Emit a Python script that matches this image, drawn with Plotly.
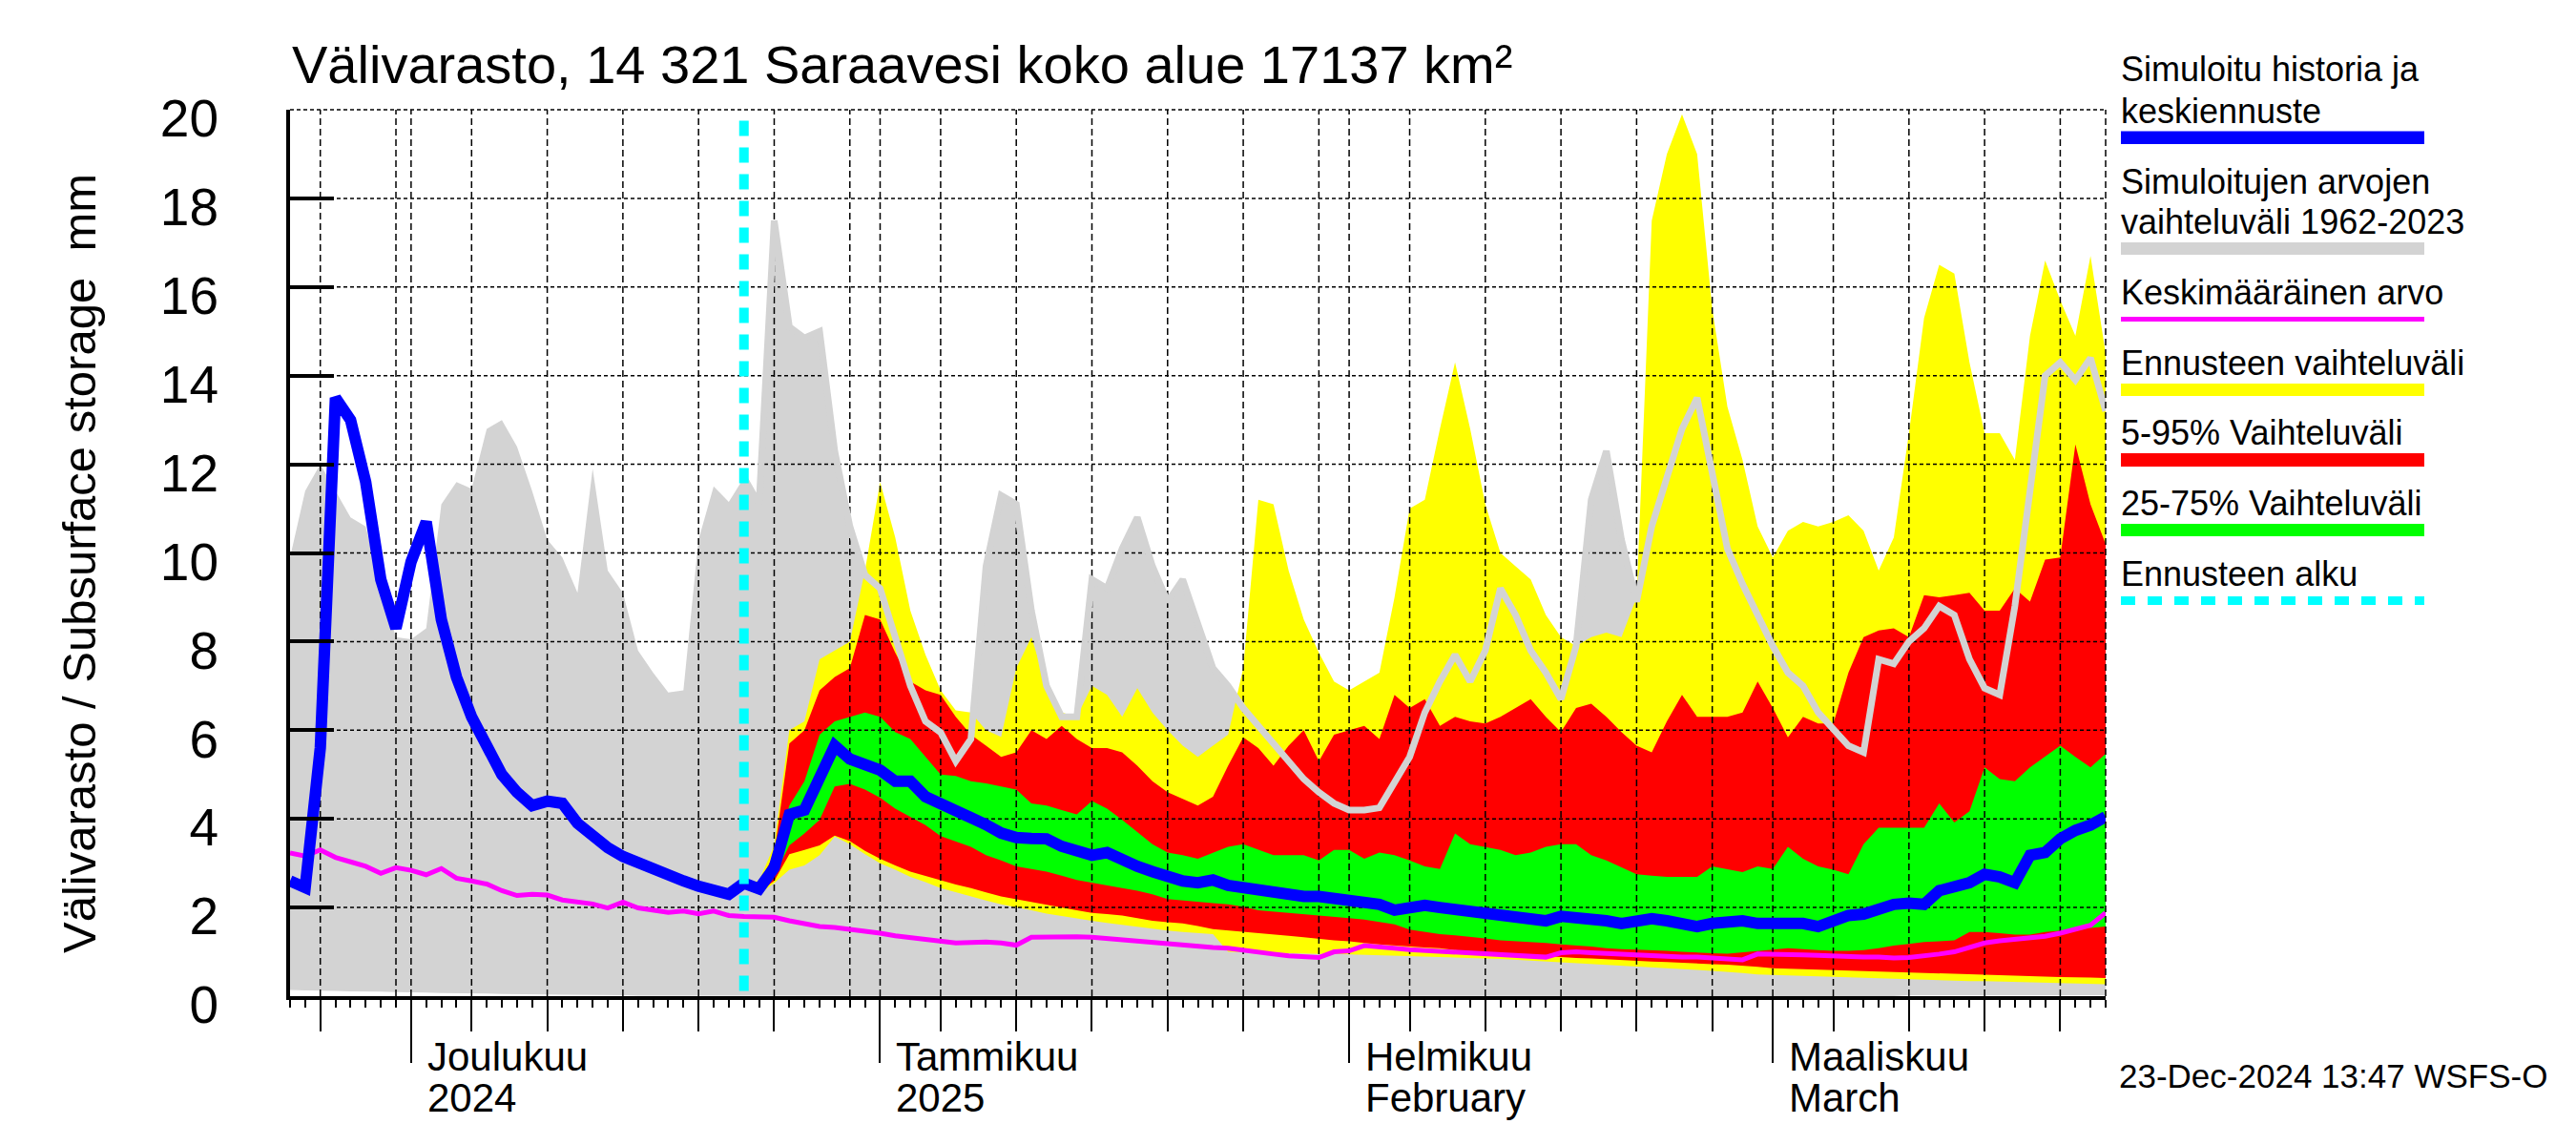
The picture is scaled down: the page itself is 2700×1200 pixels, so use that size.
import plotly.graph_objects as go
import pandas as pd

# ---------------- data ----------------
START = "2024-11-23"
END = "2025-03-23"
FORECAST_START = "2024-12-23"
dates = pd.date_range(START, END, freq="D").strftime("%Y-%m-%d").tolist()   # 121 days
fc_dates = dates[30:]                                                       # 2024-12-23 .. 2025-03-23

# simulated history + median forecast (blue)
blue = [2.6, 2.45, 5.6, 13.5, 13.0, 11.6, 9.4, 8.3, 9.8, 10.7,
        8.5, 7.2, 6.3, 5.7, 5.0, 4.6, 4.3, 4.4, 4.35, 3.9,
        3.6, 3.35, 3.15, 3.0, 2.85, 2.72, 2.6, 2.48, 2.38, 2.3,
        2.55, 2.42, 2.9, 4.1, 4.2, 5.0, 5.65, 5.35, 5.2, 5.1,
        4.85, 4.85, 4.5, 4.35, 4.2, 4.0, 3.87, 3.68, 3.58, 3.56,
        3.55, 3.38, 3.25, 3.18, 3.24, 3.06, 2.93, 2.81, 2.69, 2.6,
        2.56, 2.62, 2.5, 2.44, 2.38, 2.32, 2.32, 2.25, 2.25, 2.19,
        2.19, 2.13, 2.07, 1.94, 2.02, 2.05, 2.0, 1.96, 1.92, 1.88,
        1.82, 1.78, 1.75, 1.7, 1.8, 1.78, 1.76, 1.7, 1.64, 1.7,
        1.75, 1.7, 1.64, 1.57, 1.64, 1.67, 1.7, 1.64, 1.64, 1.64,
        1.64, 1.57, 1.7, 1.82, 1.85, 1.95, 2.07, 2.1, 2.07, 2.38,
        2.5, 2.56, 2.75, 2.69, 2.56, 3.18, 3.24, 3.55, 3.74, 3.86, 4.05]

# range of simulated values 1962-2023 (grey)
gray_max = [9.9, 11.4, 12.0, 11.4, 10.8, 10.6, 9.2, 8.1, 8.05, 8.3,
            11.1, 11.6, 11.45, 12.8, 13.0, 12.4, 11.4, 10.3, 9.9, 9.1,
            11.9, 9.6, 9.1, 7.8, 7.3, 6.85, 6.9, 10.3, 11.5, 11.15,
            11.7, 11.1, 17.5, 15.1, 14.85, 15.0, 12.3, 10.6, 9.5, 9.2,
            8.1, 7.0, 6.2, 5.95, 5.3, 5.8, 9.7, 11.3, 11.1, 8.7,
            7.0, 6.3, 6.3, 9.4, 9.2, 10.1, 10.8, 9.7, 8.9, 9.4,
            8.4, 7.4, 7.0, 6.5, 6.1, 5.7, 5.3, 4.9, 4.6, 4.35,
            4.2, 4.2, 4.25, 4.8, 5.4, 6.4, 7.1, 7.7, 7.1, 7.8,
            9.2, 8.6, 7.8, 7.3, 6.7, 7.9, 11.2, 12.3, 10.3, 8.9,
            10.6, 11.7, 12.8, 13.5, 11.7, 10.1, 9.3, 8.6, 7.9, 7.3,
            7.0, 6.4, 6.0, 5.65, 5.5, 7.6, 7.5, 8.0, 8.3, 8.8,
            8.6, 7.6, 6.95, 6.8, 8.8, 11.3, 14.0, 14.3, 13.9, 14.4, 13.2]
gray_min = [0.14, 0.13, 0.12, 0.12, 0.11, 0.1, 0.1, 0.09, 0.08, 0.08,
            0.07, 0.07, 0.06, 0.06, 0.05, 0.05, 0.04, 0.04, 0.03, 0.03,
            0.02, 0.02, 0.02, 0.01, 0.01, 0.01, 0.0, 0.0, 0.0, 0.0,
            0.0, 0.0, 0.0, 0.0, 0.0, 0.0, 0.0, 0.0, 0.0, 0.0,
            0.0, 0.0, 0.0, 0.0, 0.0, 0.0, 0.0, 0.0, 0.0, 0.0,
            0.0, 0.0, 0.0, 0.0, 0.0, 0.0, 0.0, 0.0, 0.0, 0.0,
            0.0, 0.0, 0.0, 0.0, 0.0, 0.0, 0.0, 0.0, 0.0, 0.0,
            0.0, 0.0, 0.0, 0.0, 0.0, 0.0, 0.0, 0.0, 0.0, 0.0,
            0.0, 0.0, 0.0, 0.0, 0.0, 0.0, 0.0, 0.0, 0.0, 0.0,
            0.0, 0.0, 0.0, 0.0, 0.0, 0.0, 0.0, 0.0, 0.0, 0.0,
            0.0, 0.0, 0.0, 0.0, 0.0, 0.0, 0.0, 0.02, 0.02, 0.02,
            0.02, 0.02, 0.02, 0.02, 0.02, 0.02, 0.02, 0.02, 0.02, 0.02, 0.02]

# mean value (magenta)
mean_val = [3.23, 3.16, 3.3, 3.13, 3.03, 2.93, 2.77, 2.9, 2.84, 2.74,
            2.88, 2.66, 2.6, 2.53, 2.38, 2.27, 2.3, 2.28, 2.17, 2.13,
            2.08, 1.99, 2.12, 1.99, 1.95, 1.89, 1.92, 1.86, 1.92, 1.82,
            1.8, 1.8, 1.78, 1.7, 1.63, 1.57, 1.55, 1.51, 1.48, 1.42,
            1.36, 1.32, 1.28, 1.24, 1.2, 1.21, 1.22, 1.2, 1.15, 1.33,
            1.34, 1.34, 1.34, 1.33, 1.3, 1.27, 1.24, 1.2, 1.17, 1.14,
            1.13, 1.1, 1.08, 1.03, 0.99, 0.95, 0.91, 0.88, 0.87, 1.0,
            1.02, 1.14, 1.1, 1.08, 1.05, 1.03, 1.0, 0.99, 0.97, 0.95,
            0.93, 0.91, 0.9, 0.88, 0.98, 1.0, 0.98, 0.96, 0.95, 0.93,
            0.92, 0.9, 0.88, 0.88, 0.86, 0.85, 0.82, 0.95, 0.95, 0.94,
            0.93, 0.92, 0.9, 0.9, 0.88, 0.88, 0.86, 0.87, 0.9, 0.95,
            1.0, 1.1, 1.2, 1.25, 1.28, 1.3, 1.35, 1.42, 1.5, 1.6, 1.88]

# forecast range (yellow), 2024-12-23 .. 2025-03-23
fc_min = [2.55, 2.3, 2.55, 2.85, 2.95, 3.18, 3.6, 3.43, 3.2, 3.0,
          2.85, 2.69, 2.57, 2.44, 2.35, 2.25, 2.16, 2.07, 2.0, 1.94,
          1.86, 1.8, 1.75, 1.7, 1.65, 1.6, 1.56, 1.52, 1.48, 1.45,
          1.42, 1.4, 1.0, 0.99, 0.98, 0.98, 0.97, 0.96, 0.95, 0.95,
          0.94, 0.93, 0.92, 0.92, 0.91, 0.89, 0.88, 0.87, 0.86, 0.85,
          0.84, 0.82, 0.8, 0.78, 0.77, 0.75, 0.73, 0.71, 0.69, 0.67,
          0.65, 0.63, 0.61, 0.59, 0.57, 0.55, 0.52, 0.49, 0.47, 0.46,
          0.45, 0.44, 0.43, 0.42, 0.41, 0.4, 0.39, 0.38, 0.37, 0.36,
          0.35, 0.34, 0.34, 0.33, 0.32, 0.31, 0.3, 0.3, 0.29, 0.28, 0.27]
fc_max = [2.55, 2.6, 3.4, 6.0, 6.2, 7.6, 7.8, 8.0, 9.6, 11.6,
          10.35, 8.7, 7.7, 6.9, 6.45, 6.4, 6.0, 5.85, 7.4, 8.1,
          7.0, 6.4, 6.3, 7.0, 6.8, 6.3, 6.95, 6.4, 6.0, 5.65,
          5.4, 5.65, 5.9, 7.4, 11.2, 11.1, 9.6, 8.5, 7.75, 7.1,
          6.9, 7.1, 7.3, 9.0, 11.0, 11.2, 12.8, 14.3, 12.8, 11.1,
          10.0, 9.7, 9.4, 8.6, 8.1, 7.9, 8.1, 8.2, 8.1, 9.0,
          17.5, 19.0, 19.9, 19.0, 15.5, 13.3, 12.1, 10.6, 9.9, 10.5,
          10.7, 10.6, 10.7, 10.85, 10.5, 9.6, 10.35, 12.7, 15.3, 16.5,
          16.3, 14.3, 12.7, 12.7, 12.1, 14.9, 16.6, 15.7, 14.9, 16.7, 14.5]
# 5-95 % (red)
p05 = [2.55, 2.35, 2.6, 3.2, 3.3, 3.4, 3.62, 3.5, 3.28, 3.1,
       2.95, 2.81, 2.72, 2.62, 2.52, 2.44, 2.34, 2.25, 2.19, 2.13,
       2.07, 2.0, 1.94, 1.88, 1.85, 1.82, 1.76, 1.7, 1.67, 1.64,
       1.58, 1.51, 1.48, 1.45, 1.42, 1.39, 1.36, 1.33, 1.3, 1.26,
       1.24, 1.2, 1.17, 1.14, 1.12, 1.1, 1.08, 1.04, 1.01, 0.98,
       0.96, 0.95, 0.93, 0.9, 0.88, 0.86, 0.85, 0.83, 0.82, 0.8,
       0.78, 0.77, 0.75, 0.74, 0.72, 0.71, 0.69, 0.66, 0.63, 0.62,
       0.61, 0.6, 0.59, 0.58, 0.57, 0.56, 0.55, 0.53, 0.52, 0.51,
       0.5, 0.49, 0.48, 0.47, 0.46, 0.45, 0.44, 0.43, 0.42, 0.42, 0.41]
p95 = [2.55, 2.55, 3.2, 5.7, 6.0, 6.9, 7.2, 7.4, 8.6, 8.5,
       7.75, 7.1, 6.9, 6.8, 6.3, 5.9, 5.65, 5.4, 5.5, 6.0,
       5.8, 6.1, 5.8, 5.6, 5.6, 5.5, 5.2, 4.85, 4.6, 4.45,
       4.3, 4.5, 5.2, 5.84, 5.6, 5.2, 5.65, 6.0, 5.3, 5.9,
       6.0, 6.1, 5.8, 6.8, 6.5, 6.7, 6.1, 6.3, 6.2, 6.15,
       6.3, 6.5, 6.7, 6.3, 5.96, 6.5, 6.6, 6.3, 5.96, 5.65,
       5.5, 6.2, 6.8, 6.3, 6.3, 6.3, 6.4, 7.1, 6.5, 5.84,
       6.3, 6.15, 6.15, 7.3, 8.1, 8.25, 8.3, 8.1, 9.05, 9.0,
       9.05, 9.1, 8.7, 8.7, 9.2, 8.9, 9.85, 9.9, 12.45, 11.1, 10.2]
# 25-75 % (green)
p25 = [2.55, 2.38, 2.7, 3.4, 3.67, 3.98, 4.73, 4.79, 4.66, 4.48,
       4.23, 4.05, 3.86, 3.61, 3.49, 3.37, 3.18, 3.06, 2.93, 2.87,
       2.81, 2.72, 2.62, 2.56, 2.5, 2.44, 2.38, 2.3, 2.19, 2.16,
       2.13, 2.1, 2.07, 2.02, 1.94, 1.92, 1.88, 1.86, 1.82, 1.79,
       1.76, 1.73, 1.67, 1.62, 1.5, 1.45, 1.4, 1.37, 1.34, 1.3,
       1.26, 1.24, 1.22, 1.2, 1.17, 1.14, 1.12, 1.08, 1.06, 1.05,
       1.04, 1.02, 1.0, 0.98, 0.97, 0.96, 0.99, 1.02, 1.05, 1.08,
       1.06, 1.04, 1.02, 1.02, 1.04, 1.08, 1.14, 1.18, 1.22, 1.24,
       1.26, 1.45, 1.45, 1.42, 1.39, 1.39, 1.45, 1.48, 1.51, 1.54, 1.57]
p75 = [2.55, 2.5, 3.0, 4.3, 4.85, 5.9, 6.2, 6.3, 6.4, 6.3,
       5.96, 5.8, 5.4, 5.0, 4.97, 4.85, 4.8, 4.73, 4.66, 4.35,
       4.3, 4.2, 4.1, 4.4, 4.23, 3.98, 3.7, 3.43, 3.24, 3.18,
       3.1, 3.24, 3.37, 3.43, 3.3, 3.18, 3.18, 3.18, 3.06, 3.3,
       3.3, 3.1, 3.24, 3.18, 3.06, 2.93, 2.87, 3.67, 3.43, 3.37,
       3.3, 3.18, 3.24, 3.37, 3.43, 3.43, 3.18, 3.06, 2.9, 2.75,
       2.72, 2.69, 2.69, 2.69, 2.93, 2.87, 2.8, 2.93, 2.87, 3.37,
       3.1, 2.93, 2.85, 2.75, 3.43, 3.8, 3.8, 3.8, 3.8, 4.35,
       3.92, 4.17, 5.16, 4.9, 4.85, 5.16, 5.4, 5.65, 5.4, 5.16, 5.47]

# axis / tick definitions
y_ticks = [0, 2, 4, 6, 8, 10, 12, 14, 16, 18, 20]
grid_dates = ["2024-11-25", "2024-11-30", "2024-12-01", "2024-12-05", "2024-12-10",
              "2024-12-15", "2024-12-20", "2024-12-25", "2024-12-30", "2025-01-01",
              "2025-01-05", "2025-01-10", "2025-01-15", "2025-01-20", "2025-01-25",
              "2025-01-30", "2025-02-01", "2025-02-05", "2025-02-10", "2025-02-15",
              "2025-02-20", "2025-02-25", "2025-03-01", "2025-03-05", "2025-03-10",
              "2025-03-15", "2025-03-20"]
five_day_ticks = [d for d in grid_dates if d[-2:] in ("05", "10", "15", "20", "25")]
month_ticks = ["2024-12-01", "2025-01-01", "2025-02-01", "2025-03-01"]
month_line1 = ["Joulukuu", "Tammikuu", "Helmikuu", "Maaliskuu"]
month_line2 = ["2024", "2025", "February", "March"]

title_text = "Välivarasto, 14 321 Saraavesi koko alue 17137 km²"
ytitle_text = "Välivarasto / Subsurface storage\u00a0\u00a0mm"
stamp_text = "23-Dec-2024 13:47 WSFS-O"
legend_items = [
    (["Simuloitu historia ja", "keskiennuste"], "#0000FF", "bar"),
    (["Simuloitujen arvojen", "vaihteluväli 1962-2023"], "#D3D3D3", "bar"),
    (["Keskimääräinen arvo"], "#FF00FF", "thin"),
    (["Ennusteen vaihteluväli"], "#FFFF00", "bar"),
    (["5-95% Vaihteluväli"], "#FF0000", "bar"),
    (["25-75% Vaihteluväli"], "#00FF00", "bar"),
    (["Ennusteen alku"], "#00FFFF", "dash"),
]

# ---------------- layout geometry (pixels) ----------------
W, H = 2700, 1200
L, R, T, B = 304, 2207, 115, 1044
FONT = "Liberation Sans, Arial, Helvetica, sans-serif"


def px(x):
    return (x - L) / (R - L)


def py(y):
    return (B - y) / (B - T)


fig = go.Figure()


def band(x, lo, hi, color):
    fig.add_trace(go.Scatter(
        x=list(x) + list(x)[::-1], y=list(hi) + list(lo)[::-1],
        mode="lines", fill="toself", fillcolor=color, line=dict(width=0),
        hoverinfo="skip", showlegend=False))


band(dates, gray_min, gray_max, "#D3D3D3")
band(fc_dates, fc_min, fc_max, "#FFFF00")
band(fc_dates, p05, p95, "#FF0000")
band(fc_dates, p25, p75, "#00FF00")

# dashed grid (drawn over the filled areas)
gx, gy = [], []
for d in grid_dates:
    gx += [d, d, None]
    gy += [y_ticks[0], y_ticks[-1], None]
fig.add_trace(go.Scatter(x=gx, y=gy, mode="lines",
                         line=dict(color="black", width=1.5, dash="7px,4px"),
                         hoverinfo="skip", showlegend=False))
hx, hy = [], []
for v in y_ticks[1:-1]:
    hx += [START, END, None]
    hy += [v, v, None]
fig.add_trace(go.Scatter(x=hx, y=hy, mode="lines",
                         line=dict(color="black", width=1.5, dash="4px,3px"),
                         hoverinfo="skip", showlegend=False))

# lines
fig.add_trace(go.Scatter(x=fc_dates, y=gray_max[30:], mode="lines",
                         line=dict(color="#D3D3D3", width=7), hoverinfo="skip", showlegend=False))
fig.add_trace(go.Scatter(x=dates, y=mean_val, mode="lines",
                         line=dict(color="#FF00FF", width=5), showlegend=False))
fig.add_trace(go.Scatter(x=dates, y=blue, mode="lines",
                         line=dict(color="#0000FF", width=12), showlegend=False))
fig.add_trace(go.Scatter(x=[FORECAST_START, FORECAST_START], y=[y_ticks[-1] - 0.25, y_ticks[0]],
                         mode="lines", line=dict(color="#00FFFF", width=10, dash="16px,12px"),
                         showlegend=False))

# invisible trace on the overlay axis (month ticks)
fig.add_trace(go.Scatter(x=[START, END], y=[0, 0], xaxis="x2", mode="lines",
                         line=dict(width=0), hoverinfo="skip", showlegend=False))

shapes = [
    # top and right frame (dashed)
    dict(type="line", xref="paper", yref="paper", x0=0, x1=1, y0=1, y1=1,
         line=dict(color="black", width=1.5, dash="4px,3px"), layer="above"),
    dict(type="line", xref="paper", yref="paper", x0=1, x1=1, y0=0, y1=1,
         line=dict(color="black", width=1.5, dash="7px,4px"), layer="above"),
]
annotations = []

# title
annotations.append(dict(text=title_text, xref="paper", yref="paper", x=px(304), y=py(87.3 - 0.35 * 56),
                        xanchor="left", yanchor="middle", showarrow=False,
                        font=dict(family=FONT, size=56, color="black")))
# y title
annotations.append(dict(text=ytitle_text, xref="paper", yref="paper", x=px(83), y=py(591),
                        xanchor="center", yanchor="middle", textangle=-90, showarrow=False,
                        font=dict(family=FONT, size=49, color="black")))
# month labels
for d, l1, l2 in zip(month_ticks, month_line1, month_line2):
    annotations.append(dict(text=l1, xref="x", yref="paper", x=d, xshift=15, y=py(1122 - 0.35 * 42),
                            xanchor="left", yanchor="middle", showarrow=False,
                            font=dict(family=FONT, size=42, color="black")))
    annotations.append(dict(text=l2, xref="x", yref="paper", x=d, xshift=15, y=py(1165 - 0.35 * 42),
                            xanchor="left", yanchor="middle", showarrow=False,
                            font=dict(family=FONT, size=42, color="black")))
# time stamp
annotations.append(dict(text=stamp_text, xref="paper", yref="paper", x=px(2219), y=py(1140 - 0.35 * 35),
                        xanchor="left", yanchor="middle", showarrow=False,
                        font=dict(family=FONT, size=35, color="black")))

# legend
LX0, LX1 = 2223, 2541
baselines = [[85, 129], [203, 245], [319], [393], [466], [540], [614]]
bars = [(137.5, 151), (254, 267), (332, 337), (402, 415), (475, 489), (549, 562), (625, 634)]
for (lines, color, kind), bl, (b0, b1) in zip(legend_items, baselines, bars):
    for txt, base in zip(lines, bl):
        annotations.append(dict(text=txt, xref="paper", yref="paper", x=px(LX0 - 2), y=py(base - 0.35 * 36),
                                xanchor="left", yanchor="middle", showarrow=False,
                                font=dict(family=FONT, size=36, color="black")))
    if kind == "dash":
        shapes.append(dict(type="line", xref="paper", yref="paper", x0=px(LX0), x1=px(LX1),
                           y0=py((b0 + b1) / 2), y1=py((b0 + b1) / 2),
                           line=dict(color=color, width=b1 - b0, dash="15px,13px")))
    else:
        shapes.append(dict(type="rect", xref="paper", yref="paper", x0=px(LX0), x1=px(LX1),
                           y0=py(b1), y1=py(b0), fillcolor=color, line=dict(width=0)))

fig.update_layout(
    width=W, height=H,
    margin=dict(l=L, r=W - R, t=T, b=H - B, pad=0),
    paper_bgcolor="white", plot_bgcolor="white",
    showlegend=False,
    font=dict(family=FONT, color="black"),
    xaxis=dict(type="date", range=[START, END], showgrid=False, zeroline=False,
               showline=True, linecolor="black", linewidth=4,
               tickmode="array", tickvals=five_day_ticks, ticks="outside", ticklen=33,
               tickwidth=1.5, tickcolor="black", showticklabels=False,
               minor=dict(ticks="outside", dtick=86400000, tick0=START, ticklen=8,
                          tickwidth=1.5, tickcolor="black", showgrid=False)),
    xaxis2=dict(type="date", range=[START, END], overlaying="x", anchor="y", side="bottom",
                showgrid=False, zeroline=False, showline=False,
                tickmode="array", tickvals=month_ticks, ticks="outside", ticklen=69,
                tickwidth=1.5, tickcolor="black", showticklabels=False),
    yaxis=dict(range=[0, 20], showgrid=False, zeroline=False,
               showline=True, linecolor="black", linewidth=4,
               tickmode="array", tickvals=y_ticks, ticks="inside", ticklen=46,
               tickwidth=3.5, tickcolor="black",
               tickfont=dict(family=FONT, size=55, color="black"),
               ticklabelstandoff=60, ticklabelshift=9),
    shapes=shapes, annotations=annotations,
)

fig.write_html("out.html", config={"displayModeBar": False},
               post_script="document.body.style.margin='0';")
